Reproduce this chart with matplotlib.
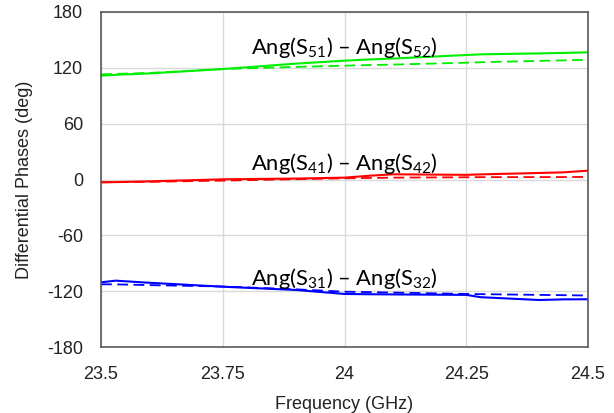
import numpy as np
import matplotlib.pyplot as plt

# data
freq = [23.5, 23.53, 23.6, 23.75, 23.9, 24.0, 24.05, 24.1, 24.25, 24.28, 24.4, 24.45, 24.5]

s5_meas = [111.6, 112.5, 114.0, 118.7, 124.5, 127.7, 129.0, 130.0, 133.8, 134.5, 135.5, 136.0, 136.7]
s5_sim = [113.0, 113.5, 114.5, 118.7, 121.0, 122.3, 123.0, 123.5, 125.5, 126.0, 127.5, 128.0, 128.7]

s4_meas = [-3.0, -2.8, -2.0, 0.2, 1.0, 2.0, 4.0, 5.6, 5.0, 5.5, 7.0, 7.7, 9.5]
s4_sim = [-3.0, -2.8, -2.5, -1.2, 0.3, 1.3, 1.6, 2.0, 2.4, 2.5, 2.6, 2.6, 2.8]

s3_meas = [-110.5, -108.7, -111.0, -115.2, -118.7, -123.0, -123.3, -123.5, -124.0, -126.5, -129.5, -128.8, -128.7]
s3_sim = [-112.6, -112.7, -113.5, -115.0, -118.0, -120.6, -121.0, -121.5, -123.0, -123.2, -124.0, -124.3, -124.7]

labels = ['Ang(S$_{51}$) – Ang(S$_{52}$)', 'Ang(S$_{41}$) – Ang(S$_{42}$)', 'Ang(S$_{31}$) – Ang(S$_{32}$)']
label_y = [142, 17, -106]
colors = ['#00ee00', '#ff0000', '#0000ff']

plt.rcParams['font.family'] = ['Liberation Sans', 'DejaVu Sans']
plt.rcParams['axes.unicode_minus'] = False
plt.rcParams['mathtext.fontset'] = 'custom'
plt.rcParams['mathtext.rm'] = 'Lato'
plt.rcParams['mathtext.it'] = 'Lato'

fig = plt.figure(figsize=(6.14, 4.13), dpi=100)
ax = fig.add_axes([101 / 614, 1 - 347 / 413, 487 / 614, 335 / 413])

series = [(s5_meas, s5_sim), (s4_meas, s4_sim), (s3_meas, s3_sim)]
for (meas, sim), c, lab, ly in zip(series, colors, labels, label_y):
    ax.plot(freq, meas, color=c, lw=1.5)
    ax.plot(freq, sim, color=c, lw=1.3, ls=(0, (6, 3)))
    ax.text(24.0, ly, lab, ha='center', va='center', fontsize=15.8, family='Lato', color='black')

ax.set_xlim(23.5, 24.5)
ax.set_ylim(-180, 180)
ax.set_xticks([23.5, 23.75, 24, 24.25, 24.5])
ax.set_xticklabels(['23.5', '23.75', '24', '24.25', '24.5'])
ax.set_yticks(np.arange(-180, 181, 60))
ax.grid(True, color='#d9d9d9', lw=1)
ax.set_axisbelow(True)
ax.tick_params(length=0, labelsize=13, colors='#222222')
ax.tick_params(axis='x', pad=14)
ax.tick_params(axis='y', pad=13)
for sp in ax.spines.values():
    sp.set_color('#595959')
    sp.set_linewidth(1.2)

ax.set_xlabel('Frequency (GHz)', fontsize=13, color='#222222', labelpad=9)
ax.set_ylabel('Differential Phases (deg)', fontsize=13, color='#222222', labelpad=10)

fig.savefig('out.png', dpi=100)
